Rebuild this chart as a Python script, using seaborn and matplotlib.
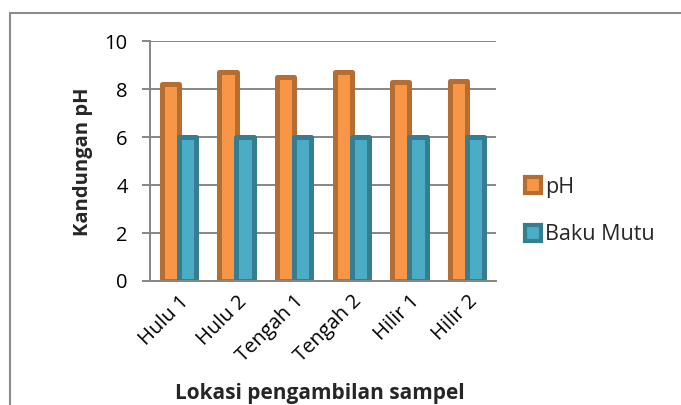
import pandas as pd
import matplotlib
matplotlib.use('Agg')
import matplotlib.pyplot as plt
import seaborn as sns
from matplotlib.patches import Patch, Rectangle

lokasi = ['Hulu 1', 'Hulu 2', 'Tengah 1', 'Tengah 2', 'Hilir 1', 'Hilir 2']
nilai_ph = [8.2, 8.7, 8.5, 8.7, 8.3, 8.35]
baku_mutu = [6, 6, 6, 6, 6, 6]
seri = ['pH', 'Baku Mutu']

warna_isi = {'pH': '#F79646', 'Baku Mutu': '#4BACC6'}
warna_tepi = {'pH': '#B66D31', 'Baku Mutu': '#357D91'}

sns.set_style('white')
plt.rcParams['font.family'] = ['Open Sans', 'DejaVu Sans']

df = pd.DataFrame({
    'Lokasi': lokasi * 2,
    'Nilai': nilai_ph + baku_mutu,
    'Seri': ['pH'] * len(lokasi) + ['Baku Mutu'] * len(lokasi),
})

fig = plt.figure(figsize=(6.81, 4.05), dpi=100)
ax = fig.add_axes([150 / 681, 1 - 281 / 405, 346 / 681, 240 / 405])

sns.barplot(data=df, x='Lokasi', y='Nilai', hue='Seri', order=lokasi, hue_order=seri,
            palette=warna_isi, saturation=1, width=0.6, ax=ax, legend=False, errorbar=None)

# tepi batang per seri
for cont, s in zip(ax.containers, seri):
    for p in cont:
        p.set_edgecolor(warna_tepi[s])
        p.set_linewidth(3.6)
        p.set_joinstyle('round')

ax.set_ylim(0, 10)
ax.set_yticks([0, 2, 4, 6, 8, 10])
ax.set_axisbelow(True)
ax.yaxis.grid(True, color='#868686', linewidth=1.4)
ax.xaxis.grid(False)

for side in ['top', 'right']:
    ax.spines[side].set_visible(False)
for side in ['left', 'bottom']:
    ax.spines[side].set_color('#868686')
    ax.spines[side].set_linewidth(1.4)

ax.tick_params(axis='y', left=True, length=6, width=1.4, color='#868686',
               labelsize=14.5, pad=10, labelcolor='#000000')
ax.tick_params(axis='x', bottom=False, labelsize=14.5, pad=4, labelcolor='#000000')
plt.setp(ax.get_xticklabels(), rotation=45, ha='right', rotation_mode='anchor')

ax.set_xlabel('')
ax.set_ylabel('')
fig.text(83 / 681, 1 - 162 / 405, 'Kandungan pH', rotation=90, ha='center', va='center',
         fontsize=14.5, fontweight='bold')
fig.text(320 / 681, 1 - 393 / 405, 'Lokasi pengambilan sampel', ha='center', va='center',
         fontsize=15, fontweight='bold')

handles = [Patch(facecolor=warna_isi[s], edgecolor=warna_tepi[s], linewidth=3) for s in seri]
fig.legend(handles, seri, loc='center left', bbox_to_anchor=(525 / 681, 1 - 211 / 405),
           frameon=False, fontsize=15.5, handlelength=0.75, handleheight=0.75,
           handletextpad=0.2, labelspacing=1.25, borderpad=0, borderaxespad=0)

# bingkai grafik
fig.add_artist(Rectangle((10 / 681, -0.2), 1.2, 1.2 - 13 / 405, transform=fig.transFigure,
                         fill=False, edgecolor='#8C8C8C', linewidth=1.5))

plt.savefig('out.png', dpi=100)
plt.close()
